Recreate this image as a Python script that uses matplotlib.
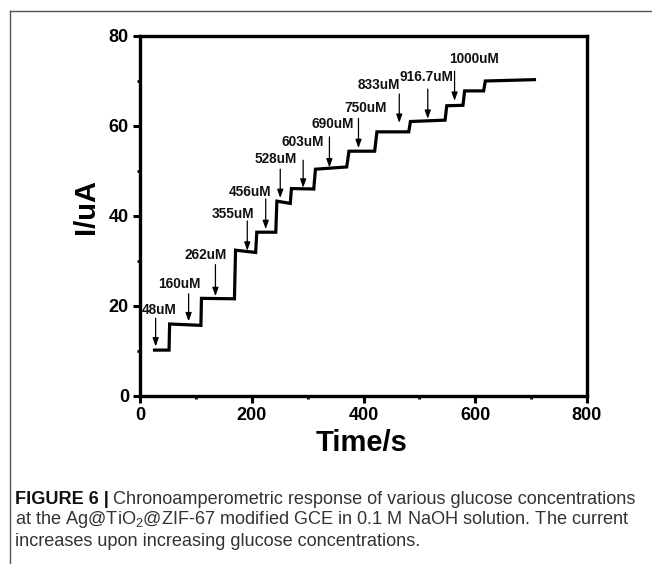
import matplotlib
matplotlib.use("Agg")
import matplotlib.pyplot as plt
from matplotlib.lines import Line2D
import numpy as np

# ---- data ----
seg_t_start = [26, 53, 110, 171, 209, 245, 271, 314, 374, 424, 484, 549, 581, 618]
seg_t_end   = [52, 109, 169, 207, 243, 269, 311, 370, 420, 481, 546, 578, 615, 706]
seg_i_start = [10.2, 16.0, 21.7, 32.4, 36.4, 43.3, 46.1, 50.4, 54.4, 58.7, 61.0, 64.5, 67.8, 70.0]
seg_i_end   = [10.2, 15.7, 21.6, 31.9, 36.4, 42.8, 46.0, 50.9, 54.4, 58.7, 61.3, 64.6, 67.8, 70.3]

conc_labels = ["48uM", "160uM", "262uM", "355uM", "456uM", "528uM", "603uM",
               "690uM", "750uM", "833uM", "916.7uM", "1000uM"]
arrow_t     = [28, 87, 135, 192, 225, 251, 292, 339, 391, 464, 515, 563]
arrow_top   = [17.3, 22.7, 29.2, 38.9, 43.8, 50.4, 52.4, 57.6, 61.7, 67.1, 68.2, 72.2]
arrow_tip   = [11.0, 16.6, 22.2, 32.3, 37.1, 44.0, 46.3, 50.8, 55.1, 60.7, 61.6, 65.6]
label_t     = [34, 70, 118, 167, 197, 242, 291, 345, 404, 428, 512, 597]
label_i     = [19.0, 24.8, 31.3, 40.4, 45.4, 52.6, 56.4, 60.4, 64.1, 69.1, 70.8, 74.9]

x_ticks = [0, 200, 400, 600, 800]
y_ticks = [0, 20, 40, 60, 80]
x_label = "Time/s"
y_label = "I/uA"

# ---- figure ----
plt.rcParams['font.family'] = ['Liberation Sans', 'DejaVu Sans']
plt.rcParams['mathtext.fontset'] = 'custom'
plt.rcParams['mathtext.rm'] = 'Liberation Sans'

W, H = 652, 564
fig = plt.figure(figsize=(W / 100, H / 100), dpi=100)
ax = fig.add_axes([140 / W, 1 - 396 / H, (587 - 140) / W, (396 - 36) / H])

xs, ys = [], []
for a, b, c, d in zip(seg_t_start, seg_t_end, seg_i_start, seg_i_end):
    xs += [a, b]
    ys += [c, d]
ax.plot(xs, ys, color='black', lw=2.3, solid_joinstyle='miter')

for lab, at, atop, atip, lt, li in zip(conc_labels, arrow_t, arrow_top, arrow_tip, label_t, label_i):
    ax.annotate('', xy=(at, atip), xytext=(at, atop),
                arrowprops=dict(arrowstyle='-|>,head_length=0.5,head_width=0.18',
                                color='black', lw=0.9, shrinkA=0, shrinkB=0))
    ax.text(lt, li, lab, ha='center', va='center', fontsize=9.8, fontweight='bold',
            color='#111111')

ax.set_xlim(0, 800)
ax.set_ylim(0, 80)
ax.set_xticks(x_ticks)
ax.set_yticks(y_ticks)
ax.set_xticks([100, 300, 500, 700], minor=True)
ax.set_yticks([10, 30, 50, 70], minor=True)
ax.tick_params(which='major', direction='out', length=5, width=2.2, labelsize=13, pad=3)
ax.tick_params(which='minor', direction='out', length=2.5, width=2.0)
for lbl in ax.get_xticklabels() + ax.get_yticklabels():
    lbl.set_fontweight('bold')
for s in ax.spines.values():
    s.set_linewidth(2.4)

ax.set_xlabel(x_label, fontsize=21, fontweight='bold')
ax.set_ylabel(y_label, fontsize=21, fontweight='bold')
ax.xaxis.set_label_coords((362 - 140) / (587 - 140), (396 - 443) / (396 - 36))
ax.yaxis.set_label_coords((86 - 140) / (587 - 140), (396 - 207) / (396 - 36))
ax.xaxis.label.set_va('center')
ax.yaxis.label.set_va('center')

# outer frame lines (left and top)
fig.add_artist(Line2D([10 / W, 10 / W], [0, 1 - 11 / H], transform=fig.transFigure, color='#555555', lw=1))
fig.add_artist(Line2D([10 / W, 1], [1 - 11 / H, 1 - 11 / H], transform=fig.transFigure, color='#555555', lw=1))

# caption
cap_fam = ['Liberation Sans', 'DejaVu Sans']
cap_fs = 13.1
fig.canvas.draw()
r = fig.canvas.get_renderer()
t0 = fig.text(15 / W, 1 - 500 / H, "FIGURE 6 |", fontsize=cap_fs, fontweight='bold',
              family=cap_fam, va='center', color='#111111')
bb = t0.get_window_extent(renderer=r)
fig.text(bb.x1 / W + 4 / W, 1 - 500 / H, "Chronoamperometric response of various glucose concentrations",
         fontsize=cap_fs, family=cap_fam, va='center', color='#333333')
fig.text(15 / W, 1 - 520 / H, "at the Ag@TiO$_2$@ZIF-67 modified GCE in 0.1 M NaOH solution. The current",
         fontsize=cap_fs, family=cap_fam, va='center', color='#333333')
fig.text(15 / W, 1 - 541 / H, "increases upon increasing glucose concentrations.",
         fontsize=cap_fs, family=cap_fam, va='center', color='#333333')

fig.savefig("out.png", dpi=100)
